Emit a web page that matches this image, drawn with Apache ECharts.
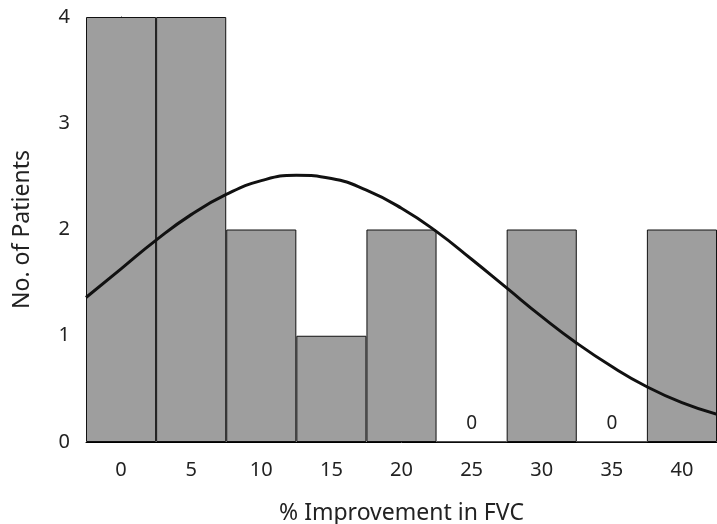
<!DOCTYPE html>
<html>
<head>
<meta charset="utf-8">
<script src="https://cdn.jsdelivr.net/npm/echarts@6/dist/echarts.min.js"></script>
<style>
  html, body { margin: 0; padding: 0; background: #fff; }
  #chart { width: 717px; height: 524px; }
</style>
</head>
<body>
<div id="chart"></div>
<script>
// histogram bins (% improvement in FVC) and counts
var bins = ['0', '5', '10', '15', '20', '25', '30', '35', '40'];
var counts = [4, 4, 2, 1, 2, 0, 2, 0, 2];
// fitted curve: [x in %, no. of patients]
var curveX = [-2.5, 0, 2.5, 5, 7.5, 10, 12.5, 15, 17.5, 20, 22.5, 25, 27.5, 30, 32.5, 35, 37.5, 40, 42.5];
var curveY = [1.36, 1.63, 1.90, 2.14, 2.33, 2.46, 2.51, 2.48, 2.37, 2.20, 1.98, 1.72, 1.45, 1.18, 0.93, 0.71, 0.52, 0.37, 0.26];
var yTicks = [0, 1, 2, 3, 4];

var curve = curveX.map(function (x, i) { return [x, curveY[i]]; });

var font = 'Noto Sans';
var myChart = echarts.init(document.getElementById('chart'));
var option = {
    animation: false,
    grid: { left: 86, right: 0, top: 17, bottom: 82, outerBoundsMode: 'none' },
    xAxis: [
        {
            type: 'category',
            data: bins,
            name: '% Improvement in FVC',
            nameLocation: 'middle',
            nameGap: 60,
            nameTextStyle: { fontFamily: font, fontSize: 23, color: '#222' },
            axisLine: { lineStyle: { color: '#000', width: 1 } },
            axisTick: {
                length: 10,
                lineStyle: { color: '#000', type: 'dashed' },
                interval: 0
            },
            axisLabel: { fontFamily: font, fontSize: 20, color: '#222', margin: 18 }
        },
        {
            type: 'value',
            min: -2.5,
            max: 42.5,
            show: false
        }
    ],
    yAxis: {
        type: 'value',
        min: yTicks[0],
        max: yTicks[yTicks.length - 1],
        interval: 1,
        name: 'No. of Patients',
        nameLocation: 'middle',
        nameGap: 52,
        nameTextStyle: { fontFamily: font, fontSize: 23, color: '#222' },
        axisLine: { show: true, lineStyle: { color: '#000' } },
        axisTick: { show: true, length: 11, lineStyle: { color: '#000' } },
        axisLabel: { fontFamily: font, fontSize: 20, color: '#222', margin: 16 },
        splitLine: { show: false }
    },
    series: [
        {
            type: 'bar',
            xAxisIndex: 0,
            data: counts,
            barWidth: '100%',
            barCategoryGap: 0,
            itemStyle: { color: '#9e9e9e', borderColor: '#111', borderWidth: 1 },
            label: {
                show: true,
                position: 'top',
                distance: 8,
                fontFamily: font,
                fontSize: 19,
                color: '#222',
                formatter: function (p) { return p.value === 0 ? '0' : ''; }
            },
            z: 2
        },
        {
            type: 'line',
            xAxisIndex: 1,
            data: curve,
            smooth: true,
            symbol: 'none',
            lineStyle: { color: '#111', width: 3 },
            z: 3
        }
    ]
};
myChart.setOption(option);
</script>
</body>
</html>
